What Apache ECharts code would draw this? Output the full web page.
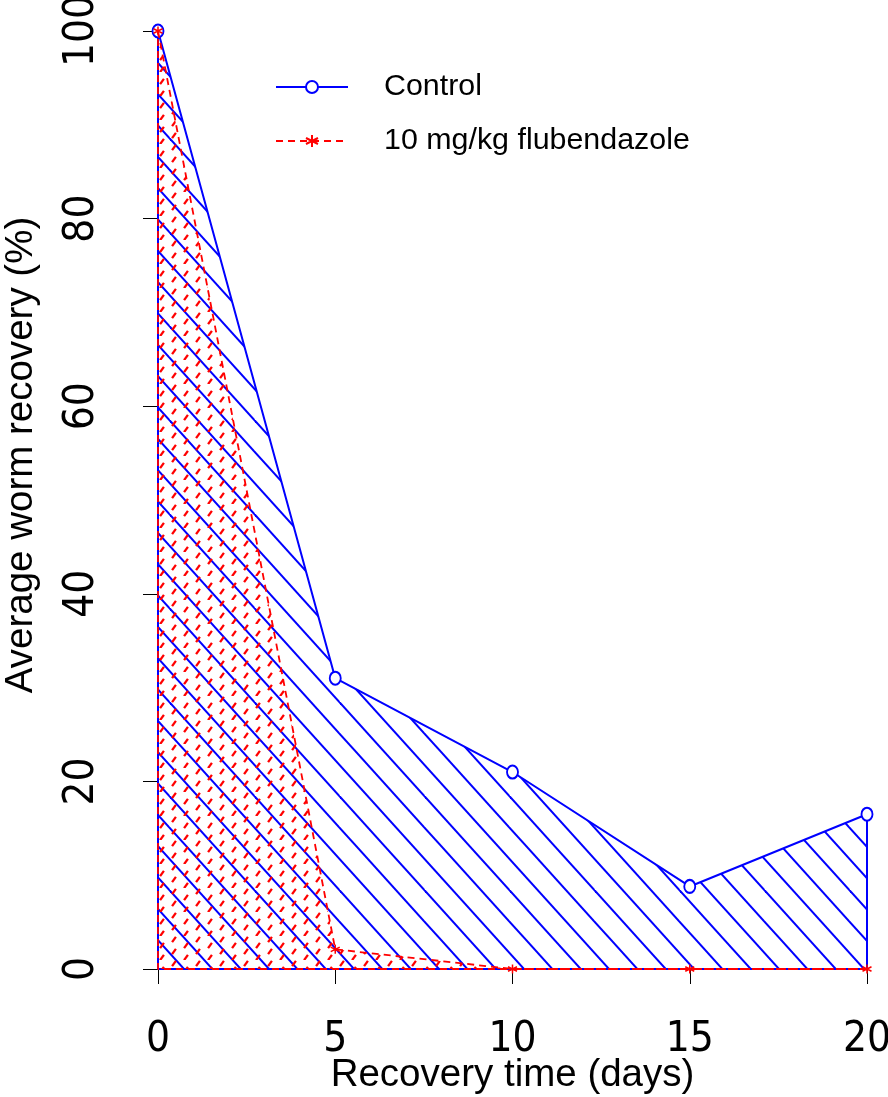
<!DOCTYPE html>
<html>
<head>
<meta charset="utf-8">
<script src="https://cdn.jsdelivr.net/npm/echarts@6/dist/echarts.min.js"></script>
<style>
html,body{margin:0;padding:0;background:#fff;}
#chart{width:888px;height:1097px;}
</style>
</head>
<body>
<div id="chart"></div>
<script>
// ---- data ----
const days = [0, 5, 10, 15, 20];
const control = [100, 31.0, 21.0, 8.8, 16.5];
const flubendazole = [100, 2.1, 0, 0, 0];
const seriesNames = ['Control', '10 mg/kg flubendazole'];
const xTitle = 'Recovery time (days)';
const yTitle = 'Average worm recovery (%)';

const TICK_FONT = "'Liberation Sans Narrow', 'DejaVu Sans Condensed', 'Liberation Sans', Arial, sans-serif";
const FONT = "'Liberation Sans', Arial, sans-serif";

// ---- hatch patterns ----
function bluePattern() {
  const W = 85, H = 94;
  const c = document.createElement('canvas');
  c.width = W; c.height = H;
  const ctx = c.getContext('2d');
  ctx.strokeStyle = '#0000ff';
  ctx.lineWidth = 2;
  const sx = W / 3, sy = H / 3, ph = 0.43;
  for (let n = -10; n <= 10; n++) {
    const y0 = sy * (n + ph);
    ctx.beginPath();
    ctx.moveTo(-30, y0 - 30 * sy / sx);
    ctx.lineTo(W + 30, y0 + (W + 30) * sy / sx);
    ctx.stroke();
  }
  return c;
}
function redPattern() {
  const W = 24, H = 24;
  const c = document.createElement('canvas');
  c.width = W; c.height = H;
  const ctx = c.getContext('2d');
  ctx.strokeStyle = '#ff0000';
  ctx.lineWidth = 2.3;
  const centers = [[6, 3.5], [6, 15.5], [18, 9.5], [18, 21.5]];
  centers.forEach(([cx, cy]) => {
    ctx.beginPath();
    ctx.moveTo(cx - 1.9, cy + 2.6);
    ctx.lineTo(cx + 1.9, cy - 2.6);
    ctx.stroke();
  });
  return c;
}

const ctrlPts = days.map((d, i) => [d, control[i]]);
const fluPts = days.map((d, i) => [d, flubendazole[i]]);
const last = days.length - 1;
const ctrlClose = [[days[last], control[last]], [days[last], 0], [days[0], 0], [days[0], control[0]]];
const fluClose = [[days[last], flubendazole[last]], [days[last], 0], [days[0], 0], [days[0], flubendazole[0]]];

const chart = echarts.init(document.getElementById('chart'), null, {renderer: 'canvas'});
chart.setOption({
  animation: false,
  backgroundColor: '#ffffff',
  grid: {left: 158, top: 31, width: 709, height: 938, outerBoundsMode: 'none'},
  xAxis: {
    type: 'value', min: 0, max: 20, interval: 5,
    name: xTitle, nameLocation: 'middle', nameGap: 87, nameMoveOverlap: false,
    nameTextStyle: {fontFamily: FONT, fontSize: 38.5, color: '#000'},
    axisLine: {show: true, lineStyle: {color: '#000', width: 1}},
    axisTick: {show: true, length: 15, inside: false, lineStyle: {color: '#000', width: 1}},
    axisLabel: {fontFamily: TICK_FONT, fontSize: 42, color: '#000', margin: 50},
    splitLine: {show: false}
  },
  yAxis: {
    type: 'value', min: 0, max: 100, interval: 20, offset: 28,
    axisLine: {show: true, lineStyle: {color: '#000', width: 1}},
    axisTick: {show: true, length: 15, inside: false, lineStyle: {color: '#000', width: 1}},
    axisLabel: {fontFamily: TICK_FONT, fontSize: 42, color: '#000', rotate: 90, margin: 27},
    splitLine: {show: false}
  },
  legend: {
    orient: 'vertical', left: 275, top: 72, padding: 0,
    itemWidth: 72, itemHeight: 15, itemGap: 24,
    textStyle: {fontFamily: FONT, fontSize: 30.4, lineHeight: 30, color: '#000', padding: [0, 0, 0, 31]},
    data: seriesNames
  },
  graphic: [{
    type: 'text', x: 21, y: 455, rotation: Math.PI / 2,
    style: {text: yTitle, font: "38.5px 'Liberation Sans', Arial, sans-serif", fill: '#000', align: 'center', verticalAlign: 'middle'}
  }],
  series: [
    {
      name: seriesNames[0], type: 'line', data: ctrlPts, clip: false, z: 2,
      lineStyle: {color: '#0000ff', width: 2},
      areaStyle: {color: {image: bluePattern(), repeat: 'repeat'}, opacity: 1},
      symbol: 'emptyCircle', symbolSize: [11, 13],
      itemStyle: {color: '#0000ff', borderColor: '#0000ff', borderWidth: 1.8},
      emphasis: {disabled: true}
    },
    {
      name: 'control-edge', type: 'line', data: ctrlClose, clip: false, z: 2,
      lineStyle: {color: '#0000ff', width: 2}, showSymbol: false, symbol: 'none',
      emphasis: {disabled: true}
    },
    {
      name: seriesNames[1], type: 'line', data: fluPts, clip: false, z: 3,
      lineStyle: {color: '#ff0000', width: 1.8, type: [7, 5]},
      areaStyle: {color: {image: redPattern(), repeat: 'repeat'}, opacity: 1},
      symbol: 'path://M0,-5L0,5M-4.33,-2.5L4.33,2.5M-4.33,2.5L4.33,-2.5', symbolSize: 9,
      itemStyle: {color: '#ff0000', borderColor: '#ff0000', borderWidth: 1.5},
      emphasis: {disabled: true}
    },
    {
      name: 'flu-edge', type: 'line', data: fluClose, clip: false, z: 3,
      lineStyle: {color: '#ff0000', width: 1.8, type: [7, 5]}, showSymbol: false, symbol: 'none',
      emphasis: {disabled: true}
    }
  ]
});
</script>
</body>
</html>
